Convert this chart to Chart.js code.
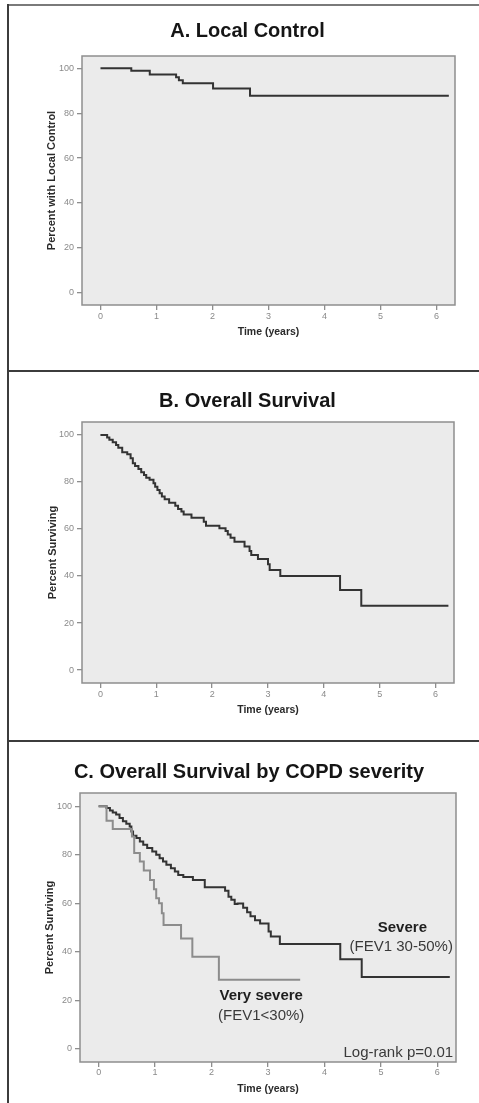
<!DOCTYPE html>
<html>
<head>
<meta charset="utf-8">
<script src="https://cdn.jsdelivr.net/npm/chart.js@4.4.0/dist/chart.umd.min.js"></script>
<style>
  body { margin: 0; background: #fff; width: 479px; height: 1103px; position: relative; overflow: hidden; }
  canvas { position: absolute; left: 9px; }
  .hline { position: absolute; left: 7px; right: 0; height: 2px; background: #3c3c3c; }
  .vline { position: absolute; left: 7px; top: 4px; bottom: 0; width: 2px; background: #3c3c3c; }
</style>
</head>
<body>
<div class="hline" style="top:4px;background:#7a7a7a"></div>
<div class="hline" style="top:370px"></div>
<div class="hline" style="top:740px"></div>
<div class="vline"></div>
<canvas id="chartA" width="470" height="365" style="top:6px"></canvas>
<canvas id="chartB" width="470" height="369" style="top:372px"></canvas>
<canvas id="chartC" width="470" height="361" style="top:742px"></canvas>
<script>
const FONT = "'Liberation Sans', Arial, sans-serif";

// axis ticks shared by all three panels
const xTicks = [0, 1, 2, 3, 4, 5, 6];
const yTicks = [0, 20, 40, 60, 80, 100];

// A. Local control (years, percent)
const localYears = [0, 0.55, 0.88, 1.35, 1.40, 1.47, 2.01, 2.67, 6.22];
const localPct   = [100, 98.9, 97.3, 96.0, 94.7, 93.3, 91.0, 87.8, 87.8];

// B. Overall survival
const osYears = [0, 0.12, 0.16, 0.22, 0.28, 0.32, 0.39, 0.48, 0.54, 0.58, 0.62, 0.68, 0.73, 0.78, 0.82,
  0.88, 0.95, 0.98, 1.02, 1.06, 1.10, 1.15, 1.23, 1.34, 1.39, 1.45, 1.49, 1.63, 1.85, 1.89, 2.13,
  2.24, 2.28, 2.33, 2.40, 2.58, 2.67, 2.70, 2.82, 3.00, 3.03, 3.22, 4.29, 4.67, 6.23];
const osPct = [100, 98.9, 97.9, 96.9, 95.7, 94.6, 92.6, 91.8, 90.1, 88.0, 86.8, 85.5, 84.1, 83.0, 81.8,
  80.9, 79.4, 78.0, 76.6, 75.2, 73.8, 72.6, 71.2, 69.9, 68.5, 67.4, 66.2, 64.8, 63.1, 61.4, 60.3,
  59.1, 57.7, 56.3, 54.6, 52.5, 50.6, 48.9, 47.2, 45.0, 42.6, 40.0, 34.0, 27.4, 27.4];

// C. by COPD severity: severe (FEV1 30-50%)
const severeYears = [0, 0.14, 0.20, 0.25, 0.31, 0.37, 0.43, 0.49, 0.55, 0.58, 0.61, 0.67, 0.73, 0.79,
  0.86, 0.95, 1.02, 1.08, 1.14, 1.20, 1.28, 1.35, 1.41, 1.50, 1.67, 1.88, 2.24, 2.30, 2.35, 2.41,
  2.46, 2.56, 2.63, 2.69, 2.77, 2.86, 3.01, 3.05, 3.21, 4.28, 4.66, 6.22];
const severePct = [100, 99.3, 98.3, 97.5, 96.6, 95.2, 93.8, 92.8, 91.7, 89.6, 87.9, 86.9, 85.5, 84.1,
  82.8, 81.4, 80.0, 78.6, 77.2, 75.9, 74.5, 73.1, 71.7, 70.8, 69.6, 66.6, 65.2, 62.7, 61.4, 59.7,
  59.9, 58.1, 56.3, 54.6, 53.0, 51.6, 48.4, 46.3, 43.2, 36.9, 29.6, 29.6];

// C. very severe (FEV1 < 30%)
const verySevereYears = [0, 0.14, 0.25, 0.59, 0.63, 0.73, 0.80, 0.91, 0.98, 1.02, 1.07, 1.12, 1.15,
  1.46, 1.66, 2.13, 3.57];
const verySeverePct = [100, 94.1, 90.6, 87.6, 80.7, 77.2, 73.5, 69.6, 65.8, 62.1, 60.0, 55.9, 51.0,
  45.5, 37.9, 28.4, 28.4];

function points(xs, ys) {
  return xs.map((x, i) => ({x: x, y: ys[i]}));
}

function curve(xs, ys, color) {
  return {
    data: points(xs, ys),
    stepped: 'before',
    borderColor: color,
    borderWidth: 2,
    pointRadius: 0,
    fill: false
  };
}

// grey plotting area with frame, like the SPSS output
const framePlugin = {
  id: 'frame',
  beforeDraw(chart) {
    const a = chart.chartArea, ctx = chart.ctx;
    ctx.save();
    ctx.fillStyle = '#ebebeb';
    ctx.fillRect(a.left, a.top, a.right - a.left, a.bottom - a.top);
    ctx.restore();
  },
  afterDraw(chart) {
    const a = chart.chartArea, ctx = chart.ctx;
    ctx.save();
    ctx.strokeStyle = '#8e8e8e';
    ctx.lineWidth = 1.5;
    ctx.strokeRect(a.left, a.top, a.right - a.left, a.bottom - a.top);
    ctx.restore();
  }
};

// text labels placed in data units
const notesPlugin = {
  id: 'notes',
  afterDatasetsDraw(chart, args, opts) {
    const ctx = chart.ctx, xs = chart.scales.x, ys = chart.scales.y;
    (opts.items || []).forEach(n => {
      ctx.save();
      ctx.font = (n.bold ? 'bold ' : '') + '15px ' + FONT;
      ctx.fillStyle = n.bold ? '#1e1e1e' : '#3a3a3a';
      ctx.textAlign = n.align || 'center';
      ctx.textBaseline = 'middle';
      ctx.fillText(n.text, xs.getPixelForValue(n.x), ys.getPixelForValue(n.y));
      ctx.restore();
    });
  }
};

function panelChart(id, o) {
  return new Chart(document.getElementById(id), {
    type: 'line',
    data: { datasets: o.datasets },
    options: {
      responsive: false,
      animation: false,
      events: [],
      layout: { padding: { left: o.padLeft, right: o.padRight, top: 0, bottom: 0 } },
      plugins: {
        legend: { display: false },
        tooltip: { enabled: false },
        title: {
          display: true,
          text: o.title,
          color: '#151515',
          font: { family: FONT, size: 20, weight: 'bold' },
          padding: { top: o.titleTop, bottom: o.titleBottom }
        },
        notes: { items: o.notes || [] }
      },
      scales: {
        x: {
          type: 'linear',
          min: -0.33,
          max: 6.33,
          afterFit: s => { s.height = o.xHeight; },
          afterBuildTicks: s => { s.ticks = xTicks.map(v => ({value: v})); },
          grid: { drawOnChartArea: false, drawTicks: true, tickLength: 5, color: '#8e8e8e', lineWidth: 1.3 },
          border: { display: false },
          ticks: { color: '#8a8a8a', padding: o.xTickPad, font: { family: FONT, size: 9 } },
          title: {
            display: true,
            text: 'Time (years)',
            color: '#2a2a2a',
            font: { family: FONT, size: 10.5, weight: 'bold' },
            padding: { top: 0, bottom: o.xTitleBottom }
          }
        },
        y: {
          min: -5.5,
          max: 105.5,
          afterFit: s => { s.width = o.yWidth; },
          afterBuildTicks: s => { s.ticks = yTicks.map(v => ({value: v})); },
          grid: { drawOnChartArea: false, drawTicks: true, tickLength: 5, color: '#8e8e8e', lineWidth: 1.3 },
          border: { display: false },
          ticks: { color: '#8a8a8a', padding: 3, font: { family: FONT, size: 9 } },
          title: {
            display: true,
            text: o.yTitle,
            color: '#2a2a2a',
            font: { family: FONT, size: 11, weight: 'bold' },
            padding: { top: o.yTitleTop, bottom: 0 }
          }
        }
      }
    },
    plugins: [framePlugin, notesPlugin]
  });
}

panelChart('chartA', {
  title: 'A. Local Control',
  yTitle: 'Percent with Local Control',
  datasets: [curve(localYears, localPct, '#333333')],
  padLeft: 31, padRight: 24, yWidth: 42, yTitleTop: 5.4,
  titleTop: 13.7, titleBottom: 12.3,
  xHeight: 66, xTickPad: 1.6, xTitleBottom: 32.7
});

panelChart('chartB', {
  title: 'B. Overall Survival',
  yTitle: 'Percent Surviving',
  datasets: [curve(osYears, osPct, '#333333')],
  padLeft: 32, padRight: 25, yWidth: 41, yTitleTop: 5.4,
  titleTop: 17, titleBottom: 9,
  xHeight: 58, xTickPad: 1.6, xTitleBottom: 24.7
});

panelChart('chartC', {
  title: 'C. Overall Survival by COPD severity',
  yTitle: 'Percent Surviving',
  datasets: [
    curve(verySevereYears, verySeverePct, '#8c8c8c'),
    curve(severeYears, severePct, '#333333')
  ],
  padLeft: 33, padRight: 23, yWidth: 38, yTitleTop: 1.4,
  titleTop: 18, titleBottom: 9,
  xHeight: 41, xTickPad: 0.6, xTitleBottom: 7.7,
  notes: [
    { text: 'Severe', x: 5.38, y: 49.8, bold: true },
    { text: '(FEV1 30-50%)', x: 5.36, y: 41.9 },
    { text: 'Very severe', x: 2.88, y: 21.6, bold: true },
    { text: '(FEV1<30%)', x: 2.88, y: 13.7 },
    { text: 'Log-rank p=0.01', x: 6.28, y: -1.6, align: 'right' }
  ]
});
</script>
</body>
</html>
